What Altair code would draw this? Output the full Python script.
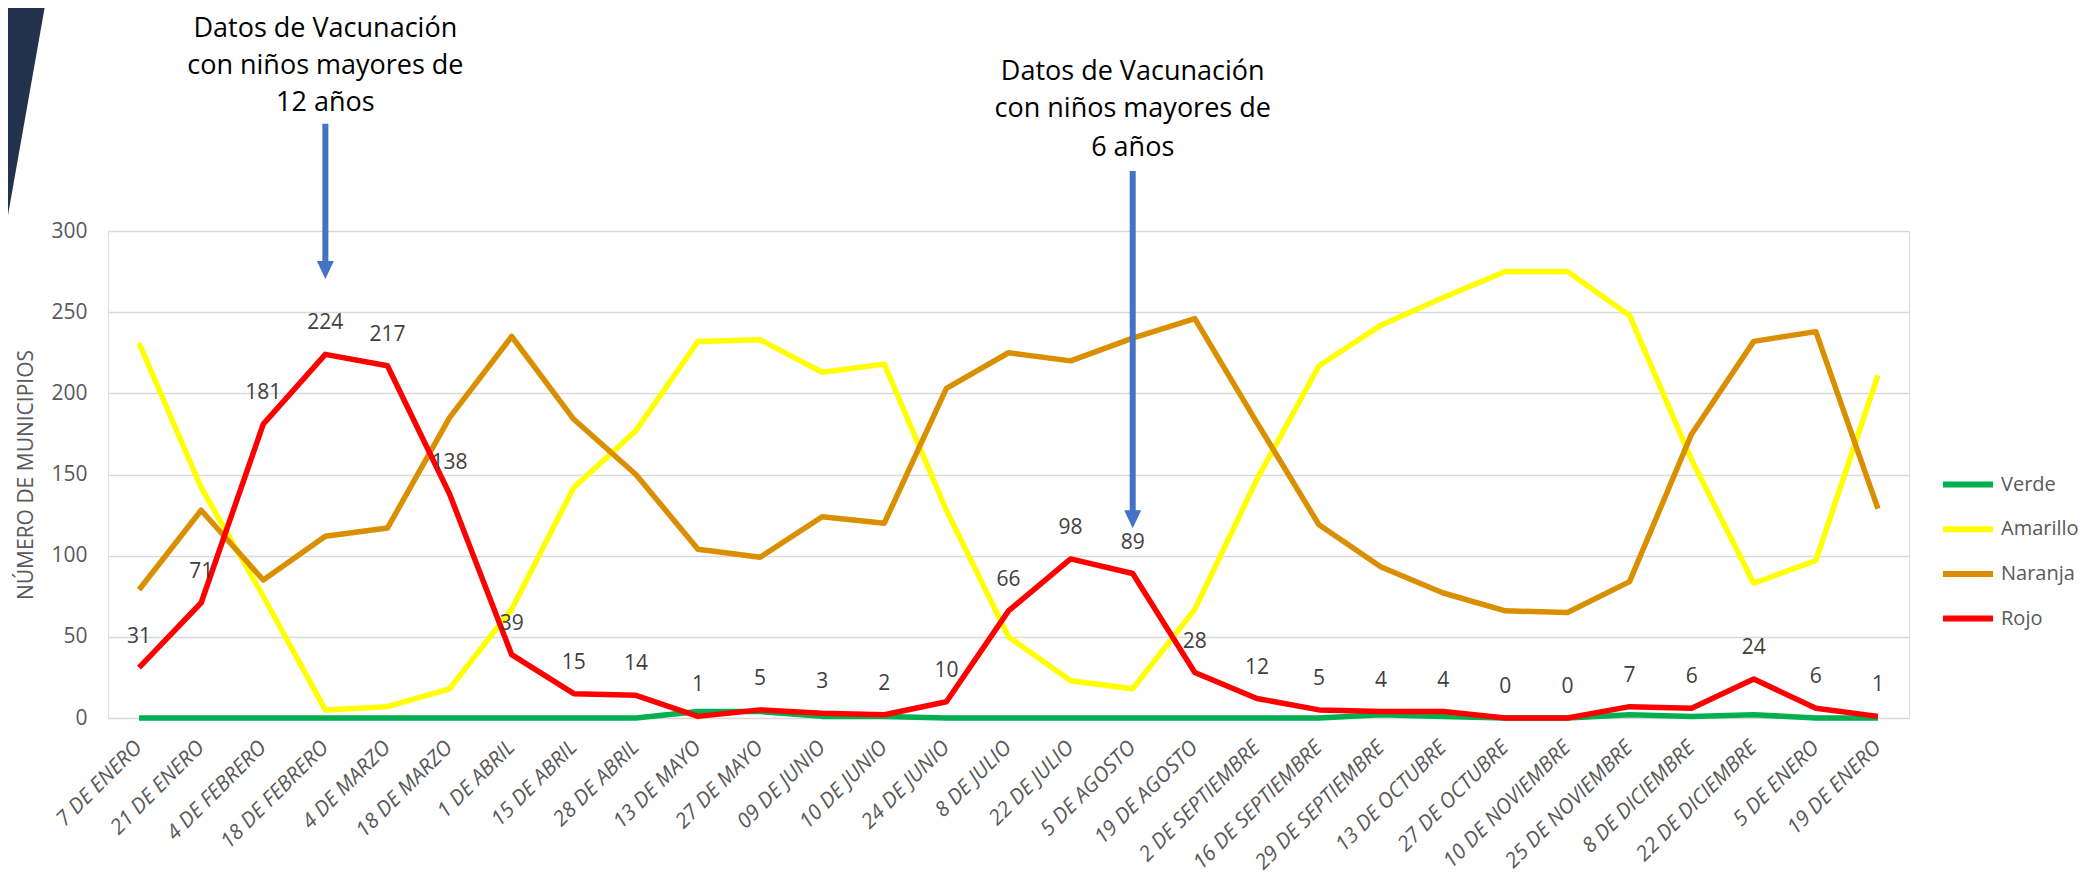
import altair as alt
import pandas as pd

# ---------------- data ----------------
fechas = ["7 DE ENERO", "21 DE ENERO", "4 DE FEBRERO", "18 DE FEBRERO", "4 DE MARZO",
          "18 DE MARZO", "1 DE ABRIL", "15 DE ABRIL", "28 DE ABRIL", "13 DE MAYO",
          "27 DE MAYO", "09 DE JUNIO", "10 DE JUNIO", "24 DE JUNIO", "8 DE JULIO",
          "22 DE JULIO", "5 DE AGOSTO", "19 DE AGOSTO", "2 DE SEPTIEMBRE",
          "16 DE SEPTIEMBRE", "29 DE SEPTIEMBRE", "13 DE OCTUBRE", "27 DE OCTUBRE",
          "10 DE NOVIEMBRE", "25 DE NOVIEMBRE", "8 DE DICIEMBRE", "22 DE DICIEMBRE",
          "5 DE ENERO", "19 DE ENERO"]

verde = [0, 0, 0, 0, 0, 0, 0, 0, 0, 4, 4, 1, 1, 0, 0, 0, 0, 0, 0, 0, 2, 1, 0, 0, 2, 1, 2, 0, 0]
amarillo = [231, 142, 75, 5, 7, 18, 67, 142, 177, 232, 233, 213, 218, 128, 50, 23, 18, 67,
            147, 217, 242, 259, 275, 275, 248, 159, 83, 97, 211]
naranja = [79, 128, 85, 112, 117, 185, 235, 184, 150, 104, 99, 124, 120, 203, 225, 220, 234,
           246, 182, 119, 93, 77, 66, 65, 84, 175, 232, 238, 129]
rojo = [31, 71, 181, 224, 217, 138, 39, 15, 14, 1, 5, 3, 2, 10, 66, 98, 89, 28, 12, 5, 4, 4,
        0, 0, 7, 6, 24, 6, 1]

series_nombres = ["Verde", "Amarillo", "Naranja", "Rojo"]
series_colores = ["#00B050", "#FFFF00", "#DA8F00", "#FF0000"]

# annotations (values in axis units)
anot_fechas = ["18 DE FEBRERO", "5 DE AGOSTO"]
anot_lineas = [["Datos de Vacunación", "con niños mayores de", "12 años"],
               ["Datos de Vacunación", "con niños mayores de", "6 años"]]
anot_lineas_y = [[419.5, 396.7, 373.9], [393, 370, 346]]
flecha_inicio = [366, 337]
flecha_cabeza = [276, 122.5]

# ---------------- tables ----------------
rows = []
for nombre, vals in zip(series_nombres, [verde, amarillo, naranja, rojo]):
    for f, v in zip(fechas, vals):
        rows.append({"fecha": f, "valor": v, "serie": nombre})
df = pd.DataFrame(rows)
df_rojo = pd.DataFrame({"fecha": fechas, "valor": rojo})

txt_rows = []
for f, lineas, ys in zip(anot_fechas, anot_lineas, anot_lineas_y):
    for t, y in zip(lineas, ys):
        txt_rows.append({"fecha": f, "valor": y, "texto": t})
df_txt = pd.DataFrame(txt_rows)
df_flecha = pd.DataFrame({"fecha": anot_fechas, "valor": flecha_inicio, "valor2": flecha_cabeza})

FONT = "Open Sans"
GRAY = "#595959"

x_enc = alt.X("fecha:N", sort=fechas, scale=alt.Scale(domain=fechas),
              axis=alt.Axis(title=None, labelAngle=315, labelAlign="right",
                            labelBaseline="middle", labelPadding=26, ticks=False,
                            domain=False, grid=False, labelFontStyle="italic",
                            labelFontSize=21, labelColor=GRAY, labelFont=FONT,
                            labelOverlap=False, labelLimit=400))
y_scale = alt.Scale(domain=[0, 300], nice=False)
y_enc = alt.Y("valor:Q", scale=y_scale,
              axis=alt.Axis(title="NÚMERO DE MUNICIPIOS", values=[0, 50, 100, 150, 200, 250, 300],
                            ticks=False, domain=False, grid=True, gridColor="#D9D9D9",
                            gridWidth=1.5, labelFontSize=21, labelColor=GRAY, labelFont=FONT,
                            labelPadding=21, titleFontSize=21, titleColor=GRAY,
                            titleFont=FONT, titleFontWeight="normal", titleX=-82,
                            titleY=243.5, titleAngle=270, titleAlign="center",
                            titleBaseline="middle"))

# slide decoration in the top-left corner
wedge = alt.Chart(pd.DataFrame({"k": [0]})).mark_rule(color="#22324C", strokeWidth=80).encode(
    x=alt.value(-97.5), x2=alt.value(-152.3), y=alt.value(-260), y2=alt.value(50))

lines = alt.Chart(df).mark_line(strokeWidth=5.5, strokeJoin="round").encode(
    x=x_enc, y=y_enc,
    color=alt.Color("serie:N", scale=alt.Scale(domain=series_nombres, range=series_colores),
                    legend=alt.Legend(title=None, orient="none", legendX=1832, legendY=241,
                                      symbolType="stroke", symbolSize=2500,
                                      symbolStrokeWidth=6, labelFontSize=20,
                                      labelColor=GRAY, labelFont=FONT, rowPadding=19.7,
                                      clipHeight=25, labelOffset=5, padding=0,
                                      labelLimit=300)),
    order=alt.Order("orden:Q"),
).transform_calculate(
    orden="indexof(['Verde','Amarillo','Naranja','Rojo'], datum.serie)")

labels = alt.Chart(df_rojo).mark_text(dy=-31, fontSize=21, color="#404040", font=FONT,
                                      baseline="middle").encode(
    x=alt.X("fecha:N", sort=fechas), y=alt.Y("valor:Q"), text=alt.Text("valor:Q"))

ann_text = alt.Chart(df_txt).mark_text(fontSize=27, color="#000000", font=FONT,
                                       baseline="alphabetic", align="center").encode(
    x=alt.X("fecha:N", sort=fechas), y=alt.Y("valor:Q"), text="texto:N")

arrow_shaft = alt.Chart(df_flecha).mark_rule(color="#4472C4", strokeWidth=6).encode(
    x=alt.X("fecha:N", sort=fechas), y=alt.Y("valor:Q"), y2="valor2:Q")

arrow_head = alt.Chart(df_flecha).mark_point(
    shape="M-1,-1.06L1,-1.06L0,1.06Z", filled=True, color="#4472C4", opacity=1,
    size=289).encode(x=alt.X("fecha:N", sort=fechas), y=alt.Y("valor2:Q"))

chart = alt.layer(wedge, lines, labels, arrow_shaft, arrow_head, ann_text).properties(
    width=1801, height=487,
    autosize=alt.AutoSizeParams(type="none"),
    padding={"left": 100, "top": 223, "right": 174, "bottom": 160},
).configure_view(stroke=None).configure(font=FONT)

chart.save("out.html", embed_options={"renderer": "svg", "actions": False})
